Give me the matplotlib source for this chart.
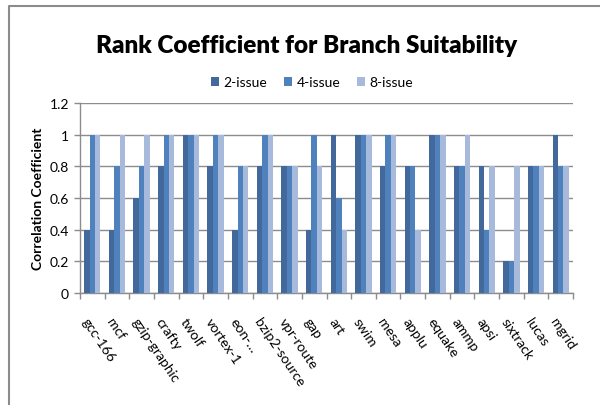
import matplotlib
matplotlib.use("Agg")
import matplotlib.pyplot as plt
import numpy as np
from matplotlib.lines import Line2D
from matplotlib.patches import Patch

benchmarks = ["gcc-166", "mcf", "gzip-graphic", "crafty", "twolf", "vortex-1", "eon-…",
              "bzip2-source", "vpr-route", "gap", "art", "swim", "mesa", "applu",
              "equake", "ammp", "apsi", "sixtrack", "lucas", "mgrid"]
issue2 = [0.4, 0.4, 0.6, 0.8, 1.0, 0.8, 0.4, 0.8, 0.8, 0.4, 1.0, 1.0, 0.8, 0.8,
          1.0, 0.8, 0.8, 0.2, 0.8, 1.0]
issue4 = [1.0, 0.8, 0.8, 1.0, 1.0, 1.0, 0.8, 1.0, 0.8, 1.0, 0.6, 1.0, 1.0, 0.8,
          1.0, 0.8, 0.4, 0.2, 0.8, 0.8]
issue8 = [1.0, 1.0, 1.0, 1.0, 1.0, 1.0, 0.8, 1.0, 0.8, 0.8, 0.4, 1.0, 1.0, 0.4,
          1.0, 1.0, 0.8, 0.8, 0.8, 0.8]
series_names = ["2-issue", "4-issue", "8-issue"]
y_ticks = [0, 0.2, 0.4, 0.6, 0.8, 1.0, 1.2]
y_tick_labels = ["0", "0.2", "0.4", "0.6", "0.8", "1", "1.2"]

colors = ["#43699c", "#4f81bd", "#a8badb"]
grid_grey = "#8c8c8c"
font = "Lato"

fig = plt.figure(figsize=(6.0, 4.06), dpi=100)
ax = fig.add_axes([80 / 600, 1 - 294 / 406, 493 / 600, 190 / 406])

x = np.arange(len(benchmarks))
w = 0.22
for i, (vals, c) in enumerate(zip([issue2, issue4, issue8], colors)):
    ax.bar(x + (i - 1) * w, vals, width=w, color=c, zorder=3, linewidth=0)

ax.set_xlim(-0.5, len(benchmarks) - 0.5)
ax.set_ylim(0, 1.2)
ax.set_yticks(y_ticks)
ax.set_yticklabels(y_tick_labels, fontsize=10, family=font)
ax.yaxis.grid(True, color=grid_grey, linewidth=1.0, zorder=0)
ax.tick_params(axis="y", length=4, color=grid_grey, width=1, pad=4)

ax.set_xticks(x - 0.1)
ax.set_xticklabels(benchmarks, rotation=-56, ha="left", va="top",
                   rotation_mode="anchor", fontsize=10, family=font)
ax.tick_params(axis="x", length=0, pad=16)
# tick marks on the category boundaries
ax.set_xticks(np.arange(-0.5, len(benchmarks)), minor=True)
ax.tick_params(axis="x", which="minor", length=4, color=grid_grey, width=1)

for s in ["top", "right"]:
    ax.spines[s].set_visible(False)
for s in ["left", "bottom"]:
    ax.spines[s].set_color(grid_grey)
    ax.spines[s].set_linewidth(1.0)

ax.set_ylabel("Correlation Coefficient", fontsize=10, fontweight="bold",
              family=font, labelpad=4)

fig.text(307 / 600, 1 - 46 / 406, "Rank Coefficient for Branch Suitability",
         ha="center", va="center", fontsize=17.5, fontweight="heavy", family=font)

handles = [Patch(facecolor=c, label=n) for c, n in zip(colors, series_names)]
fig.legend(handles=handles, loc="center", bbox_to_anchor=(312 / 600, 1 - 83 / 406),
           ncol=3, frameon=False, prop={"family": font, "size": 10},
           handlelength=0.6, handleheight=0.6, handletextpad=0.3, columnspacing=1.2)

# chart-area border (top and left edges)
fig.add_artist(Line2D([9 / 600, 9 / 600, 1.0], [0.0, 1 - 7 / 406, 1 - 7 / 406],
                      transform=fig.transFigure, color=grid_grey, linewidth=1.5))

fig.savefig("out.png", dpi=100)
